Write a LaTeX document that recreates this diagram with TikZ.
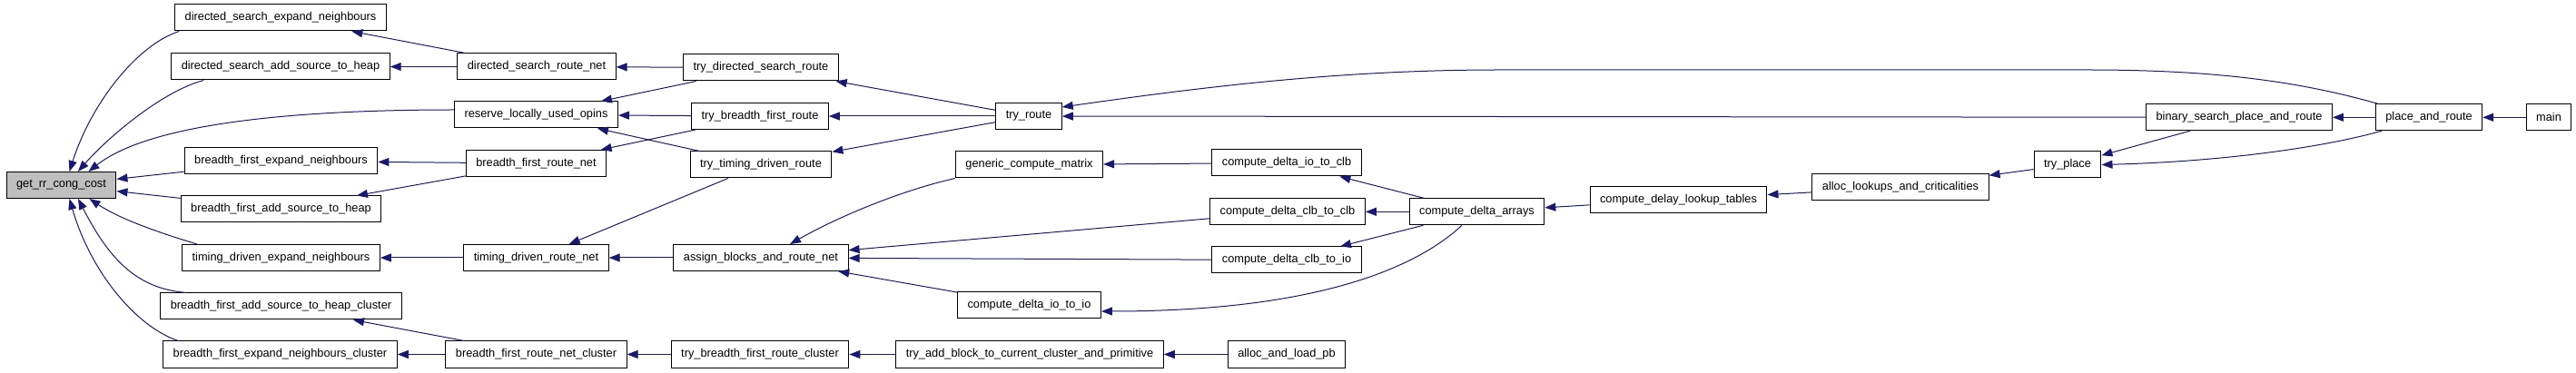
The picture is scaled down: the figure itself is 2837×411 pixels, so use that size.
\documentclass[tikz,border=0pt]{standalone}
\usepackage{fontspec}
\setmainfont{Liberation Sans}
\usetikzlibrary{arrows.meta,positioning}
\definecolor{edgeblue}{HTML}{191970}
\definecolor{hilite}{HTML}{BFBFBF}
\newcommand{\fnfont}{\fontsize{12.8}{15}\selectfont}

\begin{document}
\begin{tikzpicture}[->,>={Triangle[length=12pt,width=9pt]},x=1pt,y=-1pt,
        func/.style={draw=black,fill=white,line width=1pt,font=\fnfont,
            minimum height=29pt,inner xsep=11pt,inner ysep=0pt},
        call/.style={draw=edgeblue,line width=1pt},
        every edge/.style={call}]
        \useasboundingbox (0,0) rectangle (2837,411);

        \node[func,fill=hilite] (grcc) at (67.5,204)
            {get\_rr\_cong\_cost};

        % first column
        \node[func] (dsen) at (309,19.5)
            {directed\_search\_expand\_neighbours};
        \node[func] (dsash) at (309,73.5)
            {directed\_search\_add\_source\_to\_heap};
        \node[func] (bfen) at (309.5,177.5)
            {breadth\_first\_expand\_neighbours};
        \node[func] (bfash) at (309.5,230.5)
            {breadth\_first\_add\_source\_to\_heap};
        \node[func] (tden) at (309.5,284)
            {timing\_driven\_expand\_neighbours};
        \node[func] (bfashc) at (309.5,337.5)
            {breadth\_first\_add\_source\_to\_heap\_cluster};
        \node[func] (bfenc) at (308.5,390.5)
            {breadth\_first\_expand\_neighbours\_cluster};

        % second column
        \node[func] (dsrn) at (591,73.5)
            {directed\_search\_route\_net};
        \node[func] (rluo) at (590.5,126.5)
            {reserve\_locally\_used\_opins};
        \node[func] (bfrn) at (590.5,180)
            {breadth\_first\_route\_net};
        \node[func] (tdrn) [right of=tden, node distance=281pt]
            {timing\_driven\_route\_net};
        \node[func] (bfrnc) [right of=bfenc, node distance=282pt]
            {breadth\_first\_route\_net\_cluster};

        % third column
        \node[func] (tdsr) at (838,74.5)
            {try\_directed\_search\_route};
        \node[func] (tbfr) at (837,128)
            {try\_breadth\_first\_route};
        \node[func] (ttdr) at (838,181.5)
            {try\_timing\_driven\_route};
        \node[func] (abrn) [right of=tdrn, node distance=247.5pt]
            {assign\_blocks\_and\_route\_net};
        \node[func] (tbfrc) [right of=bfrnc, node distance=246.5pt]
            {try\_breadth\_first\_route\_cluster};

        % fourth column
        \node[func] (troute) at (1133,128)
            {try\_route};
        \node[func] (gcm) at (1133.5,181.5)
            {generic\_compute\_matrix};
        \node[func] (cdii) at (1133.5,336)
            {compute\_delta\_io\_to\_io};
        \node[func] (tabcp) [right of=tbfrc, node distance=297pt]
            {try\_add\_block\_to\_current\_cluster\_and\_primitive};

        % fifth column
        \node[func] (cdic) at (1417,179.5)
            {compute\_delta\_io\_to\_clb};
        \node[func] (cdcc) at (1418,233.3)
            {compute\_delta\_clb\_to\_clb};
        \node[func] (cdci) at (1417,286.5)
            {compute\_delta\_clb\_to\_io};
        \node[func] (aalp) [right of=tabcp, node distance=283pt]
            {alloc\_and\_load\_pb};

        % the rest
        \node[func] (cda) at (1626.5,233.3)
            {compute\_delta\_arrays};
        \node[func] (cdlt) at (1848.5,220)
            {compute\_delay\_lookup\_tables};
        \node[func] (alc) at (2093,206.5)
            {alloc\_lookups\_and\_criticalities};
        \node[func] (tp) at (2277,181.5)
            {try\_place};
        \node[func] (bspr) at (2466,129.3)
            {binary\_search\_place\_and\_route};
        \node[func] (par) [right of=bspr, node distance=209pt]
            {place\_and\_route};
        \node[func] (main) [right of=par, node distance=132pt]
            {main};

        \path
        (bfen)   edge (grcc)
        (bfash)  edge (grcc)
        (dsrn)   edge (dsen)
                 edge (dsash)
        (bfrn)   edge (bfen)
                 edge (bfash)
        (tdrn)   edge (tden)
        (bfrnc)  edge (bfashc)
                 edge (bfenc)
        (tdsr)   edge (dsrn)
                 edge (rluo)
        (tbfr)   edge (rluo)
                 edge (bfrn)
        (ttdr)   edge (rluo)
                 edge (tdrn)
        (abrn)   edge (tdrn)
        (tbfrc)  edge (bfrnc)
        (troute) edge (tdsr)
                 edge (tbfr)
                 edge (ttdr)
        (cdcc)   edge (abrn)
        (cdci)   edge (abrn)
        (cdii)   edge (abrn)
        (tabcp)  edge (tbfrc)
        (aalp)   edge (tabcp)
        (cdic)   edge (gcm)
        (cda)    edge (cdic)
                 edge (cdcc)
                 edge (cdci)
        (cdlt)   edge (cda)
        (alc)    edge (cdlt)
        (tp)     edge (alc)
        (bspr)   edge (tp)
                 edge (troute)
        (par)    edge (bspr)
        (main)   edge (par)
        ;

        % curved calls into get_rr_cong_cost
        \draw[call] ([xshift=5pt]dsen.south west) .. controls (150,50) and (100,115) .. ([xshift=9pt]grcc.north);
        \draw[call] ([xshift=36pt]dsash.south west) .. controls (180,100) and (120,150) .. ([xshift=18.5pt]grcc.north);
        \draw[call] ([yshift=5.5pt]rluo.west) .. controls (300,121) and (160,140) .. ([xshift=30pt]grcc.north);
        \draw[call] ([xshift=17pt]tden.north west) .. controls (170,255) and (130,240) .. ([xshift=31pt]grcc.south);
        \draw[call] ([xshift=29pt]bfashc.north west) .. controls (150,318) and (120,285) .. ([xshift=18.5pt]grcc.south);
        \draw[call] ([xshift=17pt]bfenc.north west) .. controls (150,360) and (100,300) .. ([xshift=9pt]grcc.south);

        % other curved calls
        \draw[call] (gcm.south west) .. controls (1000,208) and (930,235) .. ([xshift=32pt]abrn.north);
        \draw[call] ([xshift=-16.5pt]cda.south) .. controls (1560,295) and (1450,343) .. ([yshift=-7pt]cdii.east);
        \draw[call] ([xshift=3pt]par.north west) .. controls (2540,92) and (2450,77) .. (2300,77)
            -- (1650,77) .. controls (1480,77) and (1330,95) .. ([yshift=10pt]troute.east);
        \draw[call] ([xshift=7pt]par.south west) .. controls (2560,162) and (2450,178) .. (tp.east);
\end{tikzpicture}
\end{document}
